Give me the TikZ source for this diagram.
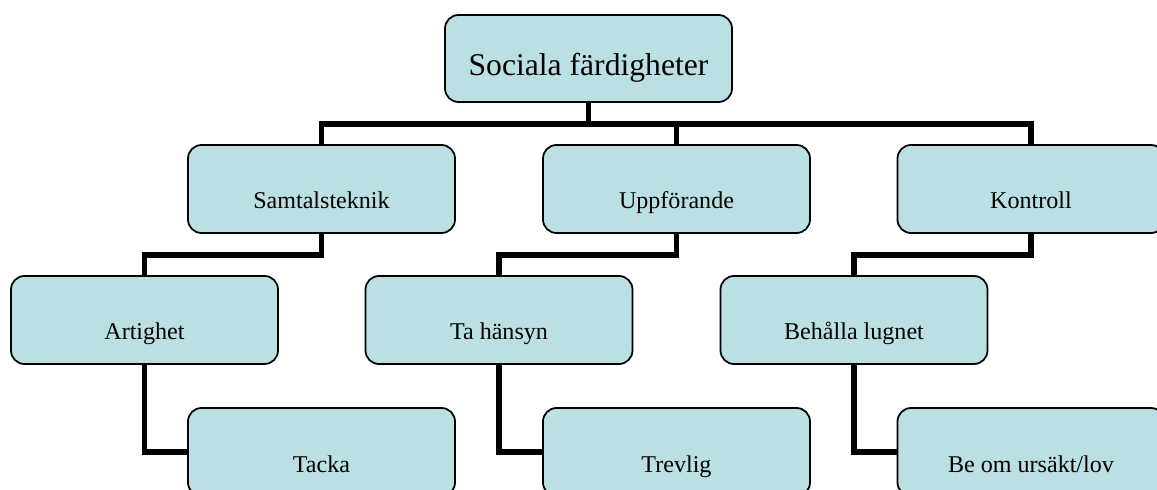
\documentclass[tikz,border=0pt]{standalone}
\usepackage{fontspec}
\setmainfont{Liberation Serif}
\usetikzlibrary{backgrounds}
\definecolor{boxfill}{HTML}{BBE0E3}
\tikzset{
  box/.style={draw=black, line width=1pt, fill=boxfill, rounded corners=0.27cm,
    minimum width=5.34cm, minimum height=1.76cm, inner sep=0pt,
    text height=0.9cm, text depth=0.1cm,
    font=\fontsize{13.7}{16}\selectfont},
  rootbox/.style={box, minimum width=5.74cm, minimum height=1.74cm,
    text height=0.8cm, text depth=0.1cm,
    font=\fontsize{18}{21}\selectfont},
  conn/.style={draw=black, line width=3pt}
}
\begin{document}
\begin{tikzpicture}
\useasboundingbox (0,0) rectangle (23.14,9.78);
\clip (0,0) rectangle (23.14,9.78);
% boxes
\node[rootbox] (root) at (11.77,8.61) {Sociala färdigheter};
\node[box] (samt) at (6.43,6.00) {Samtalsteknik};
\node[box] (uppf) at (13.53,6.00) {Uppförande};
\node[box] (kont) at (20.62,6.00) {Kontroll};
\node[box] (art) at (2.89,3.38) {Artighet};
\node[box] (ta) at (9.98,3.38) {Ta hänsyn};
\node[box] (beh) at (17.08,3.38) {Behålla lugnet};
\node[box] (tacka) at (6.43,0.74) {Tacka};
\node[box] (trev) at (13.53,0.74) {Trevlig};
\node[box] (be) at (20.62,0.74) {Be om ursäkt/lov};
\coordinate (bus1) at (0,7.30);
\coordinate (bus2) at (0,4.68);
% connectors
\begin{scope}[on background layer]
\draw[conn] (root.south) -- (root.south |- bus1);
\draw[conn] (samt.north) |- (kont.north |- bus1) -- (kont.north);
\draw[conn] (uppf.north) -- (uppf.north |- bus1);
\draw[conn] (samt.south) -- (samt.south |- bus2) -| (art.north);
\draw[conn] (uppf.south) -- (uppf.south |- bus2) -| (ta.north);
\draw[conn] (kont.south) -- (kont.south |- bus2) -| (beh.north);
\draw[conn] (art.south) |- (tacka.west);
\draw[conn] (ta.south) |- (trev.west);
\draw[conn] (beh.south) |- (be.west);
\end{scope}
\end{tikzpicture}
\end{document}
